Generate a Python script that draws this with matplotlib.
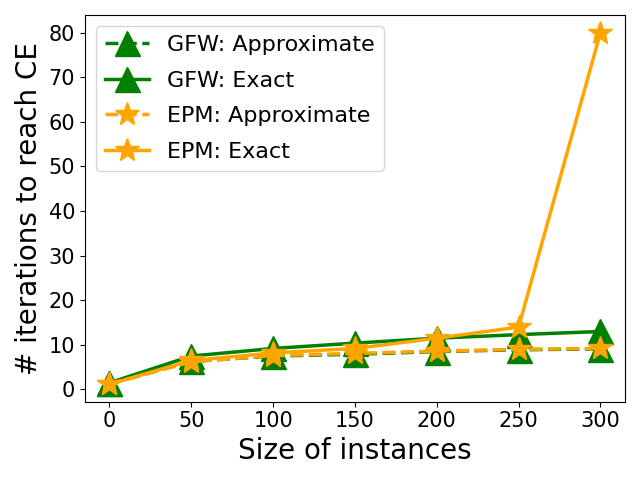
import matplotlib
matplotlib.use('Agg')
import matplotlib.pyplot as plt

sizes = [0, 50, 100, 150, 200, 250, 300]
gfw_approx = [1.5, 6.3, 7.5, 7.9, 8.5, 8.9, 9.1]
gfw_exact = [1.5, 7.5, 9.2, 10.4, 11.5, 12.3, 13.0]
epm_approx = [1.2, 6.2, 7.6, 8.1, 8.6, 9.0, 9.2]
epm_exact = [1.2, 6.5, 8.2, 9.2, 11.5, 14.0, 80.0]

fig, ax = plt.subplots(figsize=(6.4, 4.8))
ax.plot(sizes, gfw_approx, '--', marker='^', color='green', markersize=18, linewidth=2.5, label='GFW: Approximate')
ax.plot(sizes, gfw_exact, '-', marker='^', color='green', markersize=18, linewidth=2.5, label='GFW: Exact')
ax.plot(sizes, epm_approx, '--', marker='*', color='orange', markersize=18, linewidth=2.5, label='EPM: Approximate')
ax.plot(sizes, epm_exact, '-', marker='*', color='orange', markersize=18, linewidth=2.5, label='EPM: Exact')

ax.set_xlabel('Size of instances', fontsize=20)
ax.set_ylabel('# iterations to reach CE', fontsize=20)
ax.tick_params(labelsize=15)
ax.legend(fontsize=16, loc='upper left', labelspacing=0.7)

plt.tight_layout()
plt.savefig('out.png', dpi=100)
